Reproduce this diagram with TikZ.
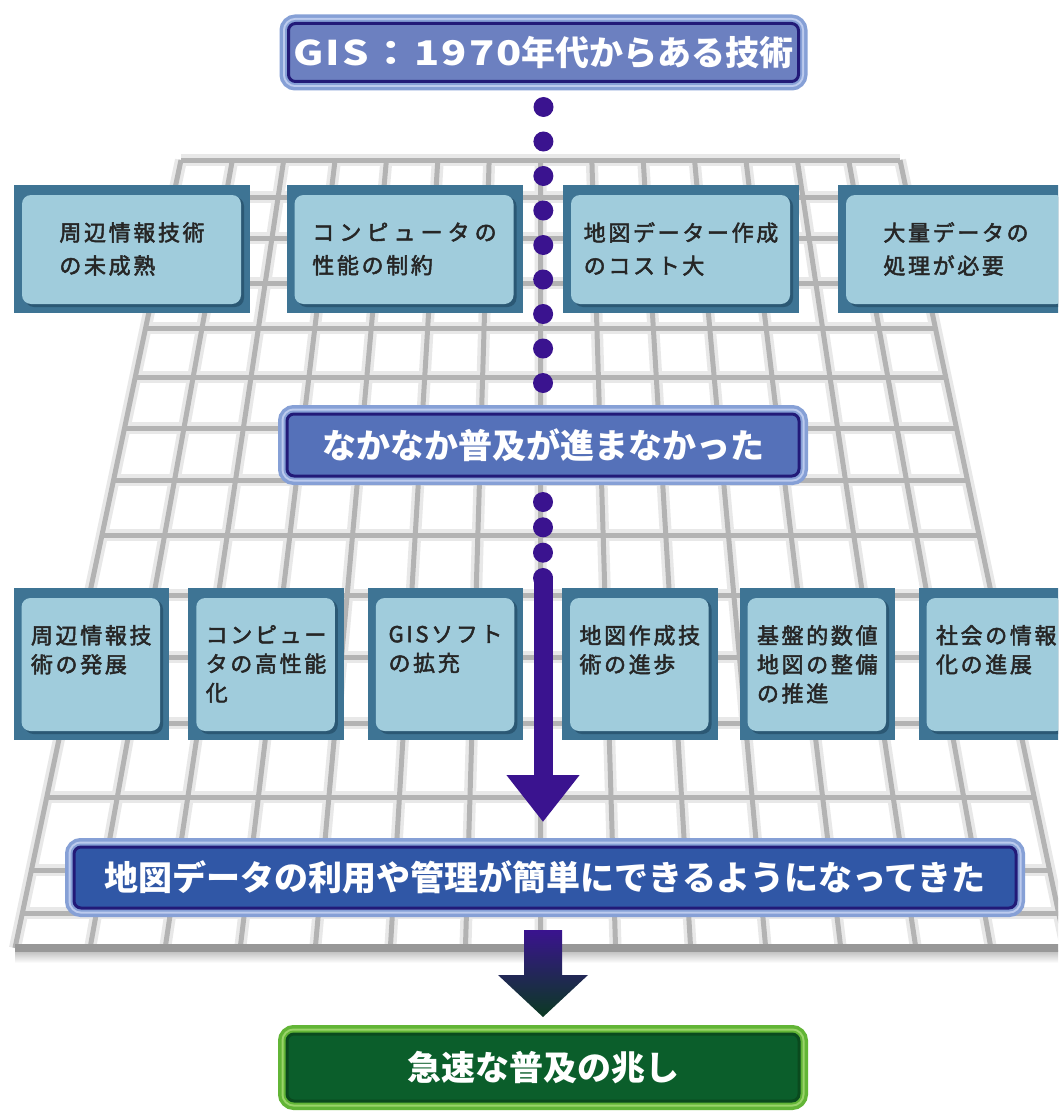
\documentclass[tikz,border=0pt]{standalone}
\usepackage{fontspec}
\newfontfamily\jp{Noto Sans CJK JP}
\newfontfamily\jpbox{Noto Sans CJK JP}[LetterSpace=12,FakeBold=2.2]
\newfontfamily\jpwide{Noto Sans CJK JP}[LetterSpace=23,FakeBold=2.2]
\usetikzlibrary{arrows.meta,calc}
\definecolor{gridC}{HTML}{B3B3B3}
\definecolor{gridS}{HTML}{E8E8E8}
\definecolor{frameC}{HTML}{3E7494}
\definecolor{lightC}{HTML}{A0CCDC}
\definecolor{shadC}{HTML}{2B5874}
\definecolor{txtC}{HTML}{262626}
\definecolor{dotC}{HTML}{3A138F}
\definecolor{navyC}{HTML}{221A78}
\definecolor{titleF}{HTML}{6C80C0}
\definecolor{midF}{HTML}{5571B9}
\definecolor{bigF}{HTML}{3057A6}
\definecolor{blueO}{HTML}{86A0D6}
\definecolor{blueL}{HTML}{BCCBEE}
\definecolor{greenO}{HTML}{62B536}
\definecolor{greenL}{HTML}{9AD46A}
\definecolor{greenD}{HTML}{0A4A1E}
\definecolor{greenF}{HTML}{0B5E2B}
\definecolor{arrowB}{HTML}{0B3A22}
\begin{document}
\begin{tikzpicture}[x=1pt,y=-1pt,
  frame/.style={fill=frameC, inner sep=0pt, outer sep=0pt,
    path picture={
      \fill[shadC, rounded corners=9pt]
        ([shift={(11pt,-12pt)}]path picture bounding box.north west) rectangle
        ([shift={(-6pt,6pt)}]path picture bounding box.south east);
      \fill[lightC, rounded corners=9pt]
        ([shift={(8pt,-10pt)}]path picture bounding box.north west) rectangle
        ([shift={(-9pt,9pt)}]path picture bounding box.south east);
    }},
  tbox/.style={frame, minimum width=236pt, minimum height=128pt, align=left,
    text=txtC, font=\jpbox\fontsize{22}{33}\selectfont},
  lbox/.style={frame, minimum width=155.5pt, minimum height=152pt},
  ltxt/.style={anchor=north, inner sep=0pt, align=left, text=txtC,
    font=\jpbox\fontsize{22}{29}\selectfont},
  bigbox/.style={rounded corners=7pt, fill=#1, draw=navyC, line width=3pt,
    inner sep=0pt, outer sep=0pt, text=white,
    font=\jp\bfseries\fontsize{34}{40}\selectfont,
    preaction={draw=blueO, line width=18pt},
    preaction={draw=blueL, line width=11pt},
    preaction={draw=blueO, line width=7pt}},
  greenbox/.style={rounded corners=7pt, fill=greenF, draw=greenD, line width=3pt,
    inner sep=0pt, outer sep=0pt, text=white,
    font=\jp\bfseries\fontsize{34}{40}\selectfont,
    preaction={draw=greenO, line width=18pt},
    preaction={draw=greenL, line width=11pt},
    preaction={draw=greenO, line width=7pt}},
  dots/.style={dotC, line width=20pt, line cap=round, dash pattern=on 0pt off #1}
]
\useasboundingbox (0,0) rectangle (1058,1113);
\clip (0,0) rectangle (1058,1113);
\fill[white] (0,0) rectangle (1058,1113);

% ---- grid ----
\def\rows{160,197,238,283,328,377,428,480,535,595,657,723,797,870,913}
\foreach \w/\c in {12/gridS,5/gridC}{
  \foreach \i in {0,...,14}{
    \draw[\c, line width=\w pt] ({181+\i*51.357},160) -- ({15+\i*75.071},948);
  }
  \foreach \y in \rows{
    \draw[\c, line width=\w pt] ({181-(\y-160)/788*166},\y) -- ({900+(\y-160)/788*166},\y);
  }
}
\shade[top color=gray!55, bottom color=white] (15,950) rectangle (1066,963);
\draw[gridC!85!black, line width=8pt] (15,948) -- (1066,948);

% ---- top row boxes ----
\node[tbox] (b1) at (132,249) {周辺情報技術\\の未成熟};
\node[tbox] (b2) at (404.5,249) {{\jpwide コンピュータの}\\性能の制約};
\node[tbox] (b3) at (681,249) {地図データー作成\\のコスト大};
\node[tbox] (b4) at (956,249) {大量データの\\処理が必要};

% ---- lower row boxes ----
\node[lbox] (l1) at (91.25,664) {};
\node[lbox] (l2) at (266,664) {};
\node[lbox] (l3) at (445.5,664) {};
\node[lbox] (l4) at (639.75,664) {};
\node[lbox] (l5) at (817.25,664) {};
\node[lbox] (l6) at (996.25,664) {};
\node[ltxt] (t1) at ($(l1.north)+(0,37)$) {周辺情報技\\術の発展};
\node[ltxt] (t2) at ($(l2.north)+(0,37)$) {コンピュー\\タの高性能\\化};
\node[ltxt] (t3) at ($(l3.north)+(0,37)$) {GISソフト\\の拡充};
\node[ltxt] (t4) at ($(l4.north)+(0,37)$) {地図作成技\\術の進歩};
\node[ltxt] (t5) at ($(l5.north)+(0,37)$) {基盤的数値\\地図の整備\\の推進};
\node[ltxt] (t6) at ($(l6.north)+(0,37)$) {社会の情報\\化の進展};

% ---- main boxes ----
\node[bigbox=titleF, minimum width=510pt, minimum height=58pt] (title) at (543.5,52.5)
  {\scalebox{1.22}[1]{\addfontfeature{LetterSpace=5}GIS：1970}年代からある技術};
\node[bigbox=midF, minimum width=512pt, minimum height=62pt] (mid) at (543,445)
  {なかなか普及が進まなかった};
\node[bigbox=bigF, minimum width=942pt, minimum height=61pt] (big) at (545,877.5)
  {地図データの利用や管理が簡単にできるようになってきた};
\node[greenbox, minimum width=512pt, minimum height=67pt] (green) at (543,1067.5)
  {急速な普及の兆し};

% ---- connectors ----
\draw[dots=34.5pt] ($(title.south)+(0,25.5)$) -- ($(mid.north)+(0,-30)$);
\draw[dots=25.33pt] ($(mid.south)+(0,26)$) -- ($(mid.south)+(0,103)$);
\draw[dotC, line width=19pt, -{Triangle[width=70pt,length=47pt]}]
  ($(mid.south)+(0,100)$) -- ($(big.north)+(-2,-25)$);
\coordinate (ab) at (big.south -| green.north);
\shade[top color=dotC, bottom color=arrowB]
  ($(ab)+(-19,22)$) -- ($(ab)+(19,22)$) -- ($(ab)+(19,67)$) -- ($(ab)+(45,67)$)
  -- ($(green.north)+(0,-17)$) -- ($(ab)+(-45,67)$) -- ($(ab)+(-19,67)$) -- cycle;
\end{tikzpicture}
\end{document}
